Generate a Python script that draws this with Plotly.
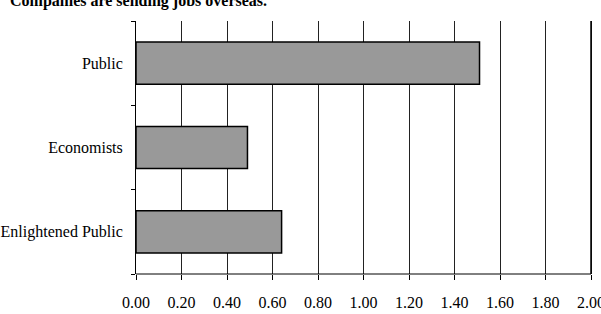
import plotly.graph_objects as go

categories = ["Public", "Economists", "Enlightened Public"]
values = [1.51, 0.49, 0.64]
tick_vals = [0.0, 0.2, 0.4, 0.6, 0.8, 1.0, 1.2, 1.4, 1.6, 1.8, 2.0]
tick_text = ["0.00", "0.20", "0.40", "0.60", "0.80", "1.00", "1.20", "1.40", "1.60", "1.80", "2.00"]
title_text = "Companies are sending jobs overseas."

FONT = "Liberation Serif, Times New Roman, serif"

fig = go.Figure()
fig.add_trace(go.Bar(
    x=values, y=categories, orientation="h", width=0.5,
    marker=dict(color="#999999", line=dict(color="#000000", width=1.5)),
    hoverinfo="skip",
))

W, H = 601, 314
ml, mr, mt, mb = 136, 5, 21, 40
ph = H - mt - mb
x_max = 2.022

fig.update_layout(
    width=W, height=H,
    margin=dict(l=ml, r=mr, t=mt, b=mb, pad=0, autoexpand=False),
    paper_bgcolor="white", plot_bgcolor="white",
    showlegend=False,
    font=dict(family=FONT, size=16, color="#000000"),
    xaxis=dict(
        range=[0, x_max], tickvals=tick_vals, ticktext=tick_text,
        showgrid=True, gridcolor="#222222", gridwidth=1,
        showline=False,
        ticks="outside", ticklen=5, tickcolor="#000000",
        ticklabelstandoff=9, zeroline=False, automargin=False,
        ticklabeloverflow="allow",
        tickfont=dict(family=FONT, size=16, color="#000000"),
    ),
    yaxis=dict(
        categoryorder="array", categoryarray=categories[::-1],
        tickson="boundaries", ticks="outside", ticklen=4, tickcolor="#000000",
        showline=True, linecolor="#000000", linewidth=1,
        showgrid=False, zeroline=False, automargin=False,
        ticklabelstandoff=9,
        tickfont=dict(family=FONT, size=16, color="#000000"),
    ),
    shapes=[
        dict(
            type="line", xref="x", yref="paper",
            x0=tick_vals[0], x1=tick_vals[-1], y0=0, y1=0,
            line=dict(color="#000000", width=1), layer="above",
        ),
        dict(
            type="line", xref="x", yref="paper",
            x0=tick_vals[-1], x1=tick_vals[-1], y0=0, y1=1,
            line=dict(color="#000000", width=1.5), layer="above",
        ),
    ],
    annotations=[dict(
        text="<b>" + title_text + "</b>",
        xref="paper", yref="paper", x=-ml / (W - ml - mr) + 8 / (W - ml - mr),
        xanchor="left", y=1 + (mt - 1) / ph, yanchor="middle",
        showarrow=False, font=dict(family=FONT, size=16, color="#000000"),
    )],
)

fig.write_html("out.html")
